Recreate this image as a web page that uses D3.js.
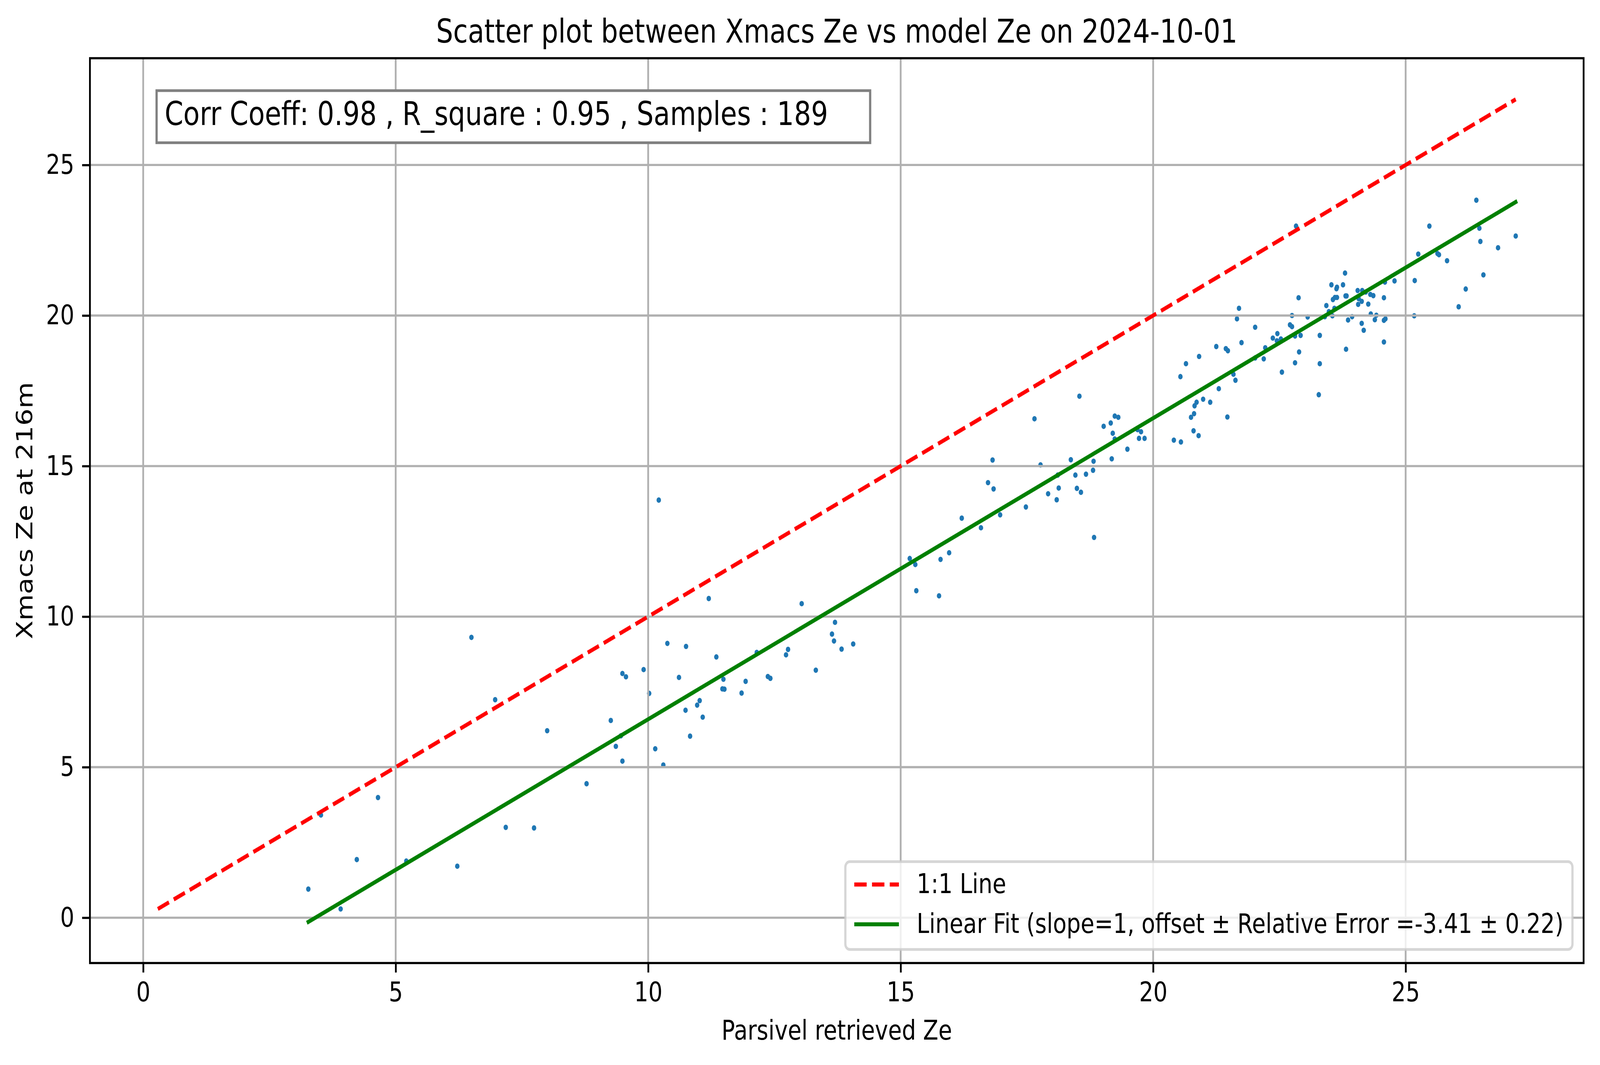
<!DOCTYPE html>
<html>
<head>
  <meta charset="utf-8">
  <title>Scatter plot between Xmacs Ze vs model Ze</title>
  <script src="https://d3js.org/d3.v7.min.js"></script>
  <style>
    html, body { margin: 0; padding: 0; overflow: hidden; background: #fff; }
    svg { display: block; width: 100vw; height: 100vh; font-family: "DejaVu Sans", sans-serif; }
    .grid line { stroke: #b0b0b0; stroke-width: 5.56; }
    .axis line { stroke: #000; stroke-width: 5.56; }
    .axis text { font-size: 69.4px; fill: #000; }
    .label { font-size: 69.4px; fill: #000; }
  </style>
</head>
<body>
  <!-- drawn in the reference's 4981x2726 units, stretched to whatever the window is -->
  <svg viewBox="0 0 4981 2726" preserveAspectRatio="none"></svg>

  <script>
    // Parsivel retrieved Ze (x) and Xmacs Ze at 216m (y)
    var parsivelZe = [
      3.27, 3.52, 3.91, 4.23, 4.65, 5.21, 6.22, 6.50, 6.97, 7.18,
      7.74, 8.00, 8.78, 9.26, 9.36, 9.46, 9.49, 9.49, 9.56, 9.91,
      10.02, 10.14, 10.21, 10.30, 10.38, 10.61, 10.74, 10.75, 10.83, 10.97,
      11.02, 11.08, 11.20, 11.35, 11.47, 11.49, 11.51, 11.85, 11.93, 12.15,
      12.37, 12.42, 12.73, 12.77, 13.04, 13.32, 13.64, 13.68, 13.70, 13.83,
      14.06, 15.18, 15.29, 15.31, 15.76, 15.79, 15.96, 16.21, 16.59, 16.73,
      16.82, 16.84, 16.97, 17.48, 17.65, 17.77, 17.92, 18.09, 18.11, 18.13,
      18.37, 18.46, 18.49, 18.54, 18.57, 18.67, 18.81, 18.82, 18.83, 19.02,
      19.16, 19.18, 19.20, 19.24, 19.24, 19.31, 19.49, 19.69, 19.72, 19.76,
      19.83, 20.41, 20.54, 20.55, 20.65, 20.75, 20.80, 20.81, 20.82, 20.86,
      20.90, 20.91, 20.99, 21.13, 21.30, 21.25, 21.44, 21.48, 21.59, 21.63,
      21.66, 21.70, 21.75, 22.02, 22.02, 22.19, 22.22, 22.37, 22.45, 22.46,
      22.53, 22.55, 22.71, 22.75, 22.75, 22.81, 22.81, 22.83, 22.88, 22.89,
      22.92, 23.06, 23.28, 23.30, 23.30, 23.40, 23.43, 23.48, 23.53, 23.55,
      23.56, 23.59, 23.60, 23.64, 23.63, 23.64, 23.76, 23.80, 23.81, 23.83,
      23.82, 23.86, 23.94, 24.05, 24.06, 24.07, 24.13, 24.13, 24.14, 24.17,
      24.21, 24.26, 24.30, 24.31, 24.36, 24.39, 24.42, 24.57, 24.57, 24.57,
      24.59, 24.60, 24.78, 25.17, 25.18, 25.25, 25.47, 25.63, 25.66, 25.82,
      26.05, 26.19, 26.40, 26.46, 26.48, 26.54, 26.83, 27.18, 21.47
    ];
    var xmacsZe = [
      0.95, 3.41, 0.29, 1.93, 3.99, 1.88, 1.71, 9.31, 7.24, 3.00,
      2.98, 6.21, 4.45, 6.55, 5.69, 6.04, 5.20, 8.11, 8.00, 8.24,
      7.45, 5.61, 13.87, 5.07, 9.11, 7.98, 6.89, 9.01, 6.03, 7.06,
      7.21, 6.66, 10.60, 8.66, 7.60, 7.92, 7.59, 7.46, 7.85, 8.81,
      8.01, 7.95, 8.73, 8.91, 10.43, 8.22, 9.42, 9.19, 9.81, 8.92,
      9.09, 11.93, 11.73, 10.86, 10.69, 11.90, 12.12, 13.27, 12.95, 14.45,
      15.20, 14.24, 13.38, 13.64, 16.57, 15.04, 14.08, 13.88, 14.70, 14.27,
      15.21, 14.70, 14.26, 17.32, 14.13, 14.73, 14.86, 15.16, 12.63, 16.32,
      16.43, 15.24, 16.09, 16.66, 15.90, 16.62, 15.56, 16.21, 15.92, 16.14,
      15.92, 15.86, 17.97, 15.80, 18.40, 16.62, 16.17, 16.74, 17.00, 17.12,
      16.01, 18.64, 17.22, 17.12, 17.57, 18.97, 18.90, 18.83, 18.05, 17.85,
      19.89, 20.24, 19.10, 19.61, 18.59, 18.56, 18.93, 19.25, 19.16, 19.40,
      19.22, 18.12, 19.69, 19.63, 20.00, 19.32, 18.43, 22.97, 20.59, 18.79,
      19.34, 19.95, 17.37, 19.34, 18.40, 19.96, 20.33, 20.13, 21.02, 19.99,
      20.53, 20.24, 20.60, 20.60, 20.89, 20.94, 21.02, 21.41, 20.65, 20.65,
      18.88, 19.85, 19.96, 20.83, 20.37, 20.56, 20.47, 19.74, 20.83, 19.51,
      20.78, 20.38, 20.70, 20.05, 20.66, 19.86, 20.01, 19.84, 20.59, 19.12,
      21.11, 19.89, 21.15, 19.99, 21.16, 22.04, 22.97, 22.06, 22.02, 21.82,
      20.29, 20.88, 23.83, 22.90, 22.46, 21.35, 22.25, 22.64, 16.63
    ];

    var xTicks = [0, 5, 10, 15, 20, 25];
    var yTicks = [0, 5, 10, 15, 20, 25];

    // fit shown in the legend and stats shown in the box
    var fitSlope = 1;
    var fitOffset = -3.41;
    var fitError = 0.22;
    var corrCoeff = "0.98";
    var rSquare = "0.95";

    // layout (figure saved at 500 dpi, so 1pt = 6.94px)
    var pt = 500 / 72;
    var margin = { top: 149, right: 51, bottom: 261, left: 280 };
    var width = 4981 - margin.left - margin.right;
    var height = 2726 - margin.top - margin.bottom;

    var lo = Math.min(d3.min(parsivelZe), d3.min(xmacsZe));
    var hi = Math.max(d3.max(parsivelZe), d3.max(xmacsZe));
    var xMin = d3.min(parsivelZe), xMax = d3.max(parsivelZe);

    var oneToOne = [[lo, lo], [hi, hi]];
    var fitLine = [[xMin, fitSlope * xMin + fitOffset], [xMax, fitSlope * xMax + fitOffset]];

    // matplotlib style 5% margins around everything drawn
    function padded(a, b) {
      var d = (b - a) * 0.05;
      return [a - d, b + d];
    }
    var x = d3.scaleLinear()
      .domain(padded(Math.min(lo, xMin), Math.max(hi, xMax)))
      .range([0, width]);
    var y = d3.scaleLinear()
      .domain(padded(Math.min(lo, fitLine[0][1]), Math.max(hi, fitLine[1][1])))
      .range([height, 0]);

    var svg = d3.select("svg");
    var plot = svg.append("g")
      .attr("transform", "translate(" + margin.left + "," + margin.top + ")");

    // scatter points (drawn under the grid like matplotlib)
    plot.append("g")
      .selectAll("circle")
      .data(parsivelZe)
      .join("circle")
      .attr("cx", function(d) { return x(d); })
      .attr("cy", function(d, i) { return y(xmacsZe[i]); })
      .attr("r", 1.0 * pt)
      .attr("fill", "#1f77b4");

    // grid
    var grid = plot.append("g").attr("class", "grid");
    grid.selectAll("line.gx")
      .data(xTicks)
      .join("line")
      .attr("class", "gx")
      .attr("x1", function(d) { return x(d); })
      .attr("x2", function(d) { return x(d); })
      .attr("y1", 0)
      .attr("y2", height);
    grid.selectAll("line.gy")
      .data(yTicks)
      .join("line")
      .attr("class", "gy")
      .attr("x1", 0)
      .attr("x2", width)
      .attr("y1", function(d) { return y(d); })
      .attr("y2", function(d) { return y(d); });

    var line = d3.line()
      .x(function(d) { return x(d[0]); })
      .y(function(d) { return y(d[1]); });

    plot.append("path")
      .attr("d", line(oneToOne))
      .attr("fill", "none")
      .attr("stroke", "#ff0000")
      .attr("stroke-width", 1.5 * pt)
      .attr("stroke-dasharray", (5.55 * pt) + "," + (2.4 * pt));

    plot.append("path")
      .attr("d", line(fitLine))
      .attr("fill", "none")
      .attr("stroke", "#008000")
      .attr("stroke-width", 1.5 * pt)
      .attr("stroke-linecap", "square");

    // frame
    plot.append("rect")
      .attr("width", width)
      .attr("height", height)
      .attr("fill", "none")
      .attr("stroke", "#000")
      .attr("stroke-width", 0.8 * pt);

    // axes
    plot.append("g")
      .attr("class", "axis")
      .attr("transform", "translate(0," + height + ")")
      .call(d3.axisBottom(x).tickValues(xTicks).tickSize(3.5 * pt).tickPadding(3.5 * pt))
      .call(function(g) { g.select(".domain").remove(); })
      .attr("font-size", null)
      .attr("font-family", null);

    plot.append("g")
      .attr("class", "axis")
      .call(d3.axisLeft(y).tickValues(yTicks).tickSize(3.5 * pt).tickPadding(3.5 * pt))
      .call(function(g) { g.select(".domain").remove(); })
      .attr("font-size", null)
      .attr("font-family", null);

    // titles
    svg.append("text")
      .attr("x", margin.left + width / 2)
      .attr("y", 109.5)
      .attr("text-anchor", "middle")
      .style("font-size", (12 * pt) + "px")
      .text("Scatter plot between Xmacs Ze vs model Ze on 2024-10-01");

    svg.append("text")
      .attr("class", "label")
      .attr("x", margin.left + width / 2)
      .attr("y", 2661)
      .attr("text-anchor", "middle")
      .text("Parsivel retrieved Ze");

    svg.append("text")
      .attr("class", "label")
      .attr("transform", "translate(101," + (margin.top + height / 2) + ") rotate(-90)")
      .attr("text-anchor", "middle")
      .text("Xmacs Ze at 216m");

    // stats box, top left (the original string ends in a few spaces, kept as nbsp)
    var fs = 12 * pt;
    var boxPad = 0.3 * fs;
    var infoTop = margin.top + 108;
    var info = plot.append("g");
    var infoText = info.append("text")
      .attr("x", 0.05 * width)
      .attr("y", infoTop - margin.top + 0.76 * fs)
      .style("font-size", fs + "px")
      .text("Corr Coeff: " + corrCoeff + " , R_square : " + rSquare + " , Samples : " + parsivelZe.length +
            "\u00a0\u00a0\u00a0\u00a0");
    var tw = infoText.node().getComputedTextLength();
    info.insert("rect", "text")
      .attr("x", 0.05 * width - boxPad)
      .attr("y", infoTop - margin.top - boxPad)
      .attr("width", tw + 2 * boxPad)
      .attr("height", fs * 1.0 + 2 * boxPad)
      .attr("fill", "#fff")
      .attr("stroke", "#808080")
      .attr("stroke-width", 1.0 * pt);

    // legend, lower right
    var lfs = 10 * pt;
    var legendItems = [
      { label: "1:1 Line", color: "#ff0000", dash: (5.55 * pt) + "," + (2.4 * pt) },
      { label: "Linear Fit (slope=" + fitSlope + ", offset \u00b1 Relative Error =" + fitOffset.toFixed(2) +
               " \u00b1 " + fitError.toFixed(2) + ")", color: "#008000", dash: null }
    ];
    var rowH = (0.76 + 0.208) * lfs;
    var borderPad = 0.4 * lfs, handleLen = 2.0 * lfs, handlePad = 0.8 * lfs, spacing = 0.5 * lfs;
    var legend = plot.append("g");
    var frame = legend.append("rect");
    var texts = legend.selectAll("text")
      .data(legendItems)
      .join("text")
      .attr("y", function(d, i) { return borderPad + i * (rowH + spacing) + 0.76 * lfs; })
      .style("font-size", lfs + "px")
      .text(function(d) { return d.label; });
    var maxW = 0;
    texts.each(function() { maxW = Math.max(maxW, this.getComputedTextLength()); });
    var lw = 2 * borderPad + handleLen + handlePad + maxW;
    var lh = 2 * borderPad + 2 * rowH + spacing;
    var axPad = 0.5 * lfs;
    legend.attr("transform", "translate(" + (width - axPad - lw) + "," + (height - axPad - lh) + ")");
    frame
      .attr("width", lw)
      .attr("height", lh)
      .attr("rx", 0.2 * lfs)
      .attr("fill", "#fff")
      .attr("fill-opacity", 0.8)
      .attr("stroke", "#cccccc")
      .attr("stroke-opacity", 0.8)
      .attr("stroke-width", 1.0 * pt);
    texts.attr("x", borderPad + handleLen + handlePad);
    legend.selectAll("line")
      .data(legendItems)
      .join("line")
      .attr("x1", borderPad)
      .attr("x2", borderPad + handleLen)
      .attr("y1", function(d, i) { return borderPad + i * (rowH + spacing) + rowH / 2 - 3; })
      .attr("y2", function(d, i) { return borderPad + i * (rowH + spacing) + rowH / 2 - 3; })
      .attr("stroke", function(d) { return d.color; })
      .attr("stroke-width", 1.5 * pt)
      .attr("stroke-dasharray", function(d) { return d.dash; });
  </script>
</body>
</html>
